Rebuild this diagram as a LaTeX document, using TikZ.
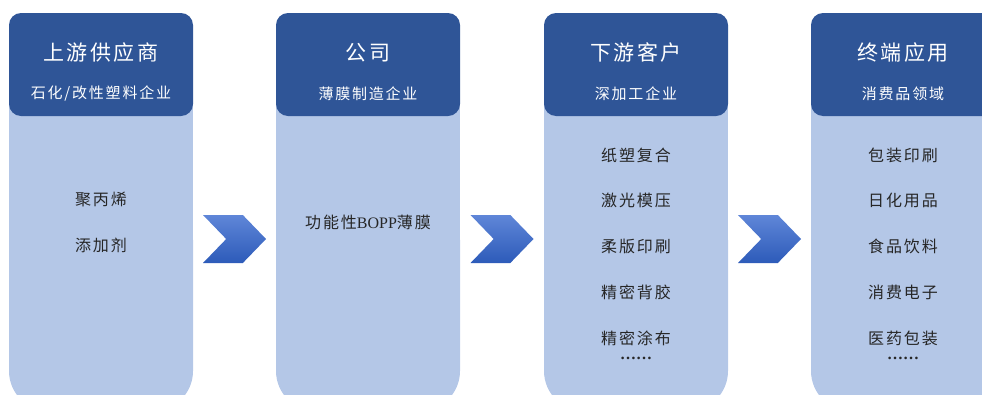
\documentclass[tikz,border=0pt]{standalone}
\usepackage{fontspec}
\setmainfont{Liberation Serif}
\newfontfamily\cjk[LetterSpace=12]{Noto Sans CJK SC}
\usetikzlibrary{positioning,shapes.symbols}
\definecolor{headblue}{HTML}{2F5597}
\definecolor{bodyblue}{HTML}{B4C7E7}
\definecolor{itemgray}{HTML}{262626}
\definecolor{chevtop}{HTML}{5F86D8}
\definecolor{chevbot}{HTML}{2D5BB9}
\tikzset{
  colbody/.style={fill=bodyblue,rounded corners=40pt},
  header/.style={fill=headblue,rounded corners=12pt,minimum width=184pt,minimum height=103pt,inner sep=0pt},
  title/.style={text=white,font=\cjk\fontsize{21}{21}\selectfont,inner sep=0pt},
  subtitle/.style={text=white,font=\cjk\fontsize{15}{15}\selectfont,inner sep=0pt},
  item/.style={text=itemgray,font=\cjk\fontsize{16}{16}\selectfont,inner sep=0pt},
  more/.style={text=itemgray,font=\rmfamily\bfseries\fontsize{16}{16}\selectfont,inner sep=0pt},
  chev/.style={shape=signal,signal from=west,signal to=east,signal pointer angle=92,
    minimum width=63pt,minimum height=48pt,inner sep=0pt,top color=chevtop,bottom color=chevbot,draw=none}
}
\begin{document}
\begin{tikzpicture}[x=1pt,y=-1pt]
\useasboundingbox (0,0) rectangle (982,394);
\clip (0,0) rectangle (982,394);
% column bodies
\foreach \x in {9,276,544,811}
{
\fill[bodyblue] (\x,100) rectangle ++(184,200);
\fill[colbody] (\x,200) rectangle ++(184,211);
}
% headers
\node[header] (hup) at (101,64.5) {};
\node[header] (hfilm) at (368,64.5) {};
\node[header] (hdown) at (636,64.5) {};
\node[header] (hend) at (903,64.5) {};
\node[title] (tup) at ([yshift=-40pt]hup.north) {上游供应商};
\node[subtitle] (sup) at ([yshift=-81pt]hup.north) {石化/改性塑料企业};
\node[title] (tfilm) at ([yshift=-40pt]hfilm.north) {公司};
\node[subtitle] (sfilm) at ([yshift=-81pt]hfilm.north) {薄膜制造企业};
\node[title] (tdown) at ([yshift=-40pt]hdown.north) {下游客户};
\node[subtitle] (sdown) at ([yshift=-81pt]hdown.north) {深加工企业};
\node[title] (tend) at ([yshift=-40pt]hend.north) {终端应用};
\node[subtitle] (send) at ([yshift=-81pt]hend.north) {消费品领域};
% items
\node[item] (up1) at (101,199) {聚丙烯};
\node[item] (up2) at (101,245) {添加剂};
\node[item] (film1) at (368,222) {功能性{\rmfamily\fontsize{16}{16}\selectfont BOPP}薄膜};
\foreach \t [count=\i] in {纸塑复合,激光模压,柔版印刷,精密背胶,精密涂布}
{
\node[item] (down\i) at (636,109.25+45.75*\i) {\t};
}
\node[more] (down6) at (636,358) {……};
\foreach \t [count=\i] in {包装印刷,日化用品,食品饮料,消费电子,医药包装}
{
\node[item] (end\i) at (903,109.25+45.75*\i) {\t};
}
\node[more] (end6) at (903,358) {……};
% chevrons
\node[chev] (c1) at (234.5,239) {};
\node[chev] (c2) at (502,239) {};
\node[chev] (c3) at (769.5,239) {};
\end{tikzpicture}
\end{document}
